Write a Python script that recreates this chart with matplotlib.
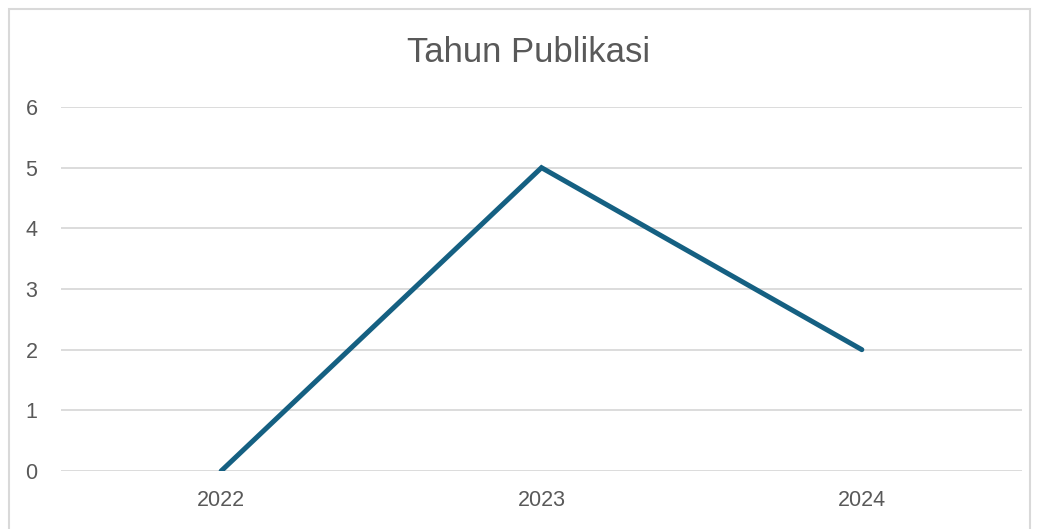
import matplotlib.pyplot as plt
from matplotlib.patches import Rectangle

years = ["2022", "2023", "2024"]
counts = [0, 5, 2]
yticks = [0, 1, 2, 3, 4, 5, 6]

W, H = 1038, 529
fig = plt.figure(figsize=(W / 100, H / 100), dpi=100)
plt.rcParams['font.family'] = ['Liberation Sans', 'DejaVu Sans']

# chart border (bottom is cut off in the reference)
fig.patches.append(Rectangle((9 / W, -0.05), (1030 - 9) / W, (H - 9) / H + 0.05,
                             transform=fig.transFigure, fill=False,
                             edgecolor='#d9d9d9', linewidth=1.5))

left, right = 61, 1022
top, bottom = 107, 471
ax = fig.add_axes([left / W, 1 - bottom / H, (right - left) / W, (bottom - top) / H])

x = list(range(len(years)))
ax.plot(x, counts, color='#156082', linewidth=3.6, solid_capstyle='round',
        solid_joinstyle='miter', zorder=3)

ax.set_xlim(-0.5, len(years) - 0.5)
ax.set_ylim(0, 6)
ax.set_yticks(yticks)
ax.set_xticks(x)
ax.set_xticklabels(years)
ax.grid(axis='y', color='#d9d9d9', linewidth=1.3)
ax.set_axisbelow(True)
for s in ax.spines.values():
    s.set_visible(False)
ax.tick_params(length=0, labelsize=15.5, colors='#595959')
ax.tick_params(axis='y', pad=17)
ax.tick_params(axis='x', pad=14)

fig.text(529 / W, 1 - 52 / H, "Tahun Publikasi", ha='center', va='center',
         fontsize=25, color='#595959')

fig.savefig("out.png", dpi=100)
